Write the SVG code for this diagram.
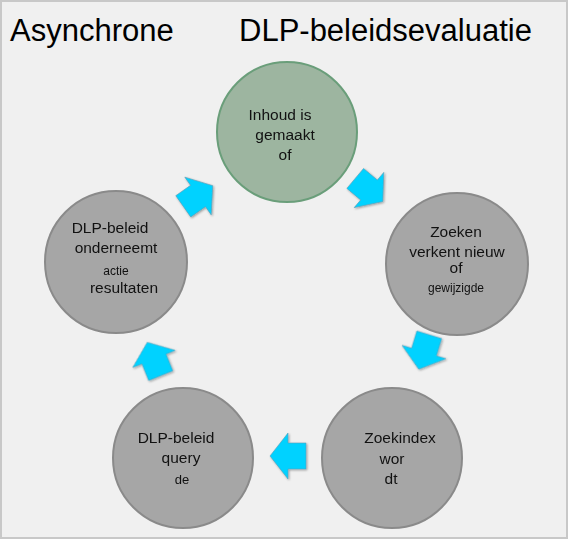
<svg xmlns="http://www.w3.org/2000/svg" width="568" height="539" viewBox="0 0 568 539">
<defs>
<style>
.bg{fill:#f0f0f0;stroke:#c8c8c8;stroke-width:2}
.title{font-family:"Liberation Sans",Arial,sans-serif;font-size:31px;fill:#000}
.node{fill:#a6a6a6;stroke:#8a8a8a;stroke-width:2}
.start{fill:#9db5a0;stroke:#6a9e7a;stroke-width:2}
.t{font-family:"Liberation Sans",Arial,sans-serif;font-size:15.5px;fill:#111;text-anchor:middle}
.s{font-size:12px}
.arr{fill:#00d2ff;stroke:#5aa0b8;stroke-width:0.6}
</style>
<filter id="sh" x="-30%" y="-30%" width="160%" height="160%">
<feGaussianBlur in="SourceAlpha" stdDeviation="1.2"/>
<feOffset dx="1" dy="1" result="b"/>
<feFlood flood-color="#000" flood-opacity="0.35"/>
<feComposite in2="b" operator="in"/>
<feMerge><feMergeNode/><feMergeNode in="SourceGraphic"/></feMerge>
</filter>
<path id="ba" d="M-18,-13 L0,-13 L0,-23 L18,0 L0,23 L0,13 L-18,13 Z"/>
</defs>
<rect class="bg" x="1" y="1" width="566" height="537"/>
<text class="title" x="10" y="41">Asynchrone</text>
<text class="title" x="239" y="41">DLP-beleidsevaluatie</text>
<g id="connectors" filter="url(#sh)">
<use href="#ba" class="arr" transform="translate(198,196) rotate(-35)"/>
<use href="#ba" class="arr" transform="translate(369,190) rotate(40)"/>
<use href="#ba" class="arr" transform="translate(424,352) rotate(107)"/>
<use href="#ba" class="arr" transform="translate(288,456) rotate(180)"/>
<use href="#ba" class="arr" transform="translate(154,359) rotate(-112)"/>
</g>
<g id="n1">
<circle class="start" cx="287" cy="132" r="70"/>
<text class="t" x="280" y="120">Inhoud is</text>
<text class="t" x="285" y="140">gemaakt</text>
<text class="t" x="285" y="160">of</text>
</g>
<g id="n2">
<circle class="node" cx="457" cy="264" r="71"/>
<text class="t" x="456" y="237">Zoeken</text>
<text class="t" x="457" y="257">verkent nieuw</text>
<text class="t" x="456" y="273">of</text>
<text class="t s" x="456" y="292">gewijzigde</text>
</g>
<g id="n3">
<circle class="node" cx="392" cy="458" r="70"/>
<text class="t" x="400" y="443">Zoekindex</text>
<text class="t" x="392" y="464">wor</text>
<text class="t" x="391" y="484">dt</text>
</g>
<g id="n4">
<circle class="node" cx="183" cy="458" r="70"/>
<text class="t" x="176" y="443">DLP-beleid</text>
<text class="t" x="181" y="463">query</text>
<text class="t" x="182" y="484" style="font-size:13px">de</text>
</g>
<g id="n5">
<circle class="node" cx="116" cy="262" r="71"/>
<text class="t" x="110" y="233">DLP-beleid</text>
<text class="t" x="116" y="253">onderneemt</text>
<text class="t s" x="116" y="275">actie</text>
<text class="t" x="124" y="293">resultaten</text>
</g>
</svg>
